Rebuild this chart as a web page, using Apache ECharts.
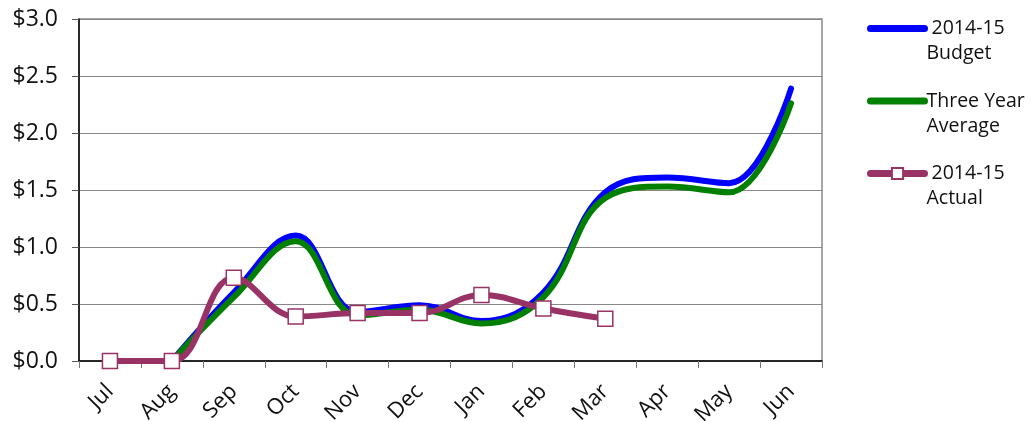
<!DOCTYPE html>
<html><head><meta charset="utf-8">
<script src="https://cdn.jsdelivr.net/npm/echarts@6/dist/echarts.min.js"></script>
<style>html,body{margin:0;padding:0;background:#fff}#c{width:1030px;height:421px}</style>
</head><body><div id="c"></div>
<script>
const categories = ['Jul','Aug','Sep','Oct','Nov','Dec','Jan','Feb','Mar','Apr','May','Jun'];
const budget = [null, 0, 0.6, 1.1, 0.43, 0.49, 0.35, 0.6, 1.48, 1.61, 1.56, 2.39];
const threeYearAvg = [null, 0, 0.56, 1.05, 0.4, 0.45, 0.33, 0.56, 1.43, 1.53, 1.48, 2.26];
const actual = [0, 0, 0.73, 0.39, 0.42, 0.42, 0.58, 0.46, 0.37];
const seriesNames = ['2014-15 Budget', 'Three Year Average', '2014-15 Actual'];
const legendLabels = {'2014-15 Budget': ' 2014-15\nBudget', 'Three Year Average': 'Three Year\nAverage', '2014-15 Actual': ' 2014-15\nActual'};
const yTicks = ['$0.0','$0.5','$1.0','$1.5','$2.0','$2.5','$3.0'];

const font = '"Open Sans", "Noto Sans", sans-serif';
const chart = echarts.init(document.getElementById('c'));
chart.setOption({
  animation: false,
  textStyle: {fontFamily: font},
  grid: {left: 79, right: 208, top: 19, bottom: 60, show: true, borderColor: '#888', borderWidth: 1.5,
         outerBoundsMode: 'none', containLabel: false},
  legend: {
    orient: 'vertical', left: 862, top: -14, itemWidth: 54, itemHeight: 14, itemGap: -2.5,
    lineStyle: {width: 7, cap: 'round'},
    formatter: n => '\n' + legendLabels[n],
    data: [
      {name: seriesNames[0], itemStyle: {opacity: 0}},
      {name: seriesNames[1], itemStyle: {opacity: 0}},
      {name: seriesNames[2]}
    ],
    textStyle: {fontSize: 19.5, color: '#111', lineHeight: 25, padding: [0, 0, 0, -3], fontFamily: font}
  },
  xAxis: {
    type: 'category', data: categories, boundaryGap: true,
    axisLine: {lineStyle: {color: '#000', width: 1.5}},
    axisTick: {show: true, length: 7, lineStyle: {color: '#777'}},
    axisLabel: {rotate: 45, fontSize: 22, color: '#111', margin: 27, fontFamily: font, interval: 0}
  },
  yAxis: {
    type: 'value', min: 0, max: 3, interval: 0.5,
    axisLine: {show: true, lineStyle: {color: '#000', width: 1.5}},
    axisTick: {show: true, length: 7, lineStyle: {color: '#555'}},
    splitLine: {lineStyle: {color: '#888', width: 1.2}},
    axisLabel: {fontSize: 23, color: '#111', margin: 21, fontFamily: font,
      formatter: v => yTicks[Math.round(v / 0.5)]}
  },
  series: [
    {name: seriesNames[0], type: 'line', data: budget, smooth: 0.4, symbol: 'none',
     lineStyle: {color: '#0000ff', width: 6, cap: 'round'}, itemStyle: {color: '#0000ff'}},
    {name: seriesNames[1], type: 'line', data: threeYearAvg, smooth: 0.4, symbol: 'none',
     lineStyle: {color: '#008000', width: 6, cap: 'round'}, itemStyle: {color: '#008000'}},
    {name: seriesNames[2], type: 'line', data: actual, smooth: 0.4, symbol: 'rect', symbolSize: 15,
     lineStyle: {color: '#993366', width: 6, cap: 'round'},
     itemStyle: {color: '#ffffff', borderColor: '#993366', borderWidth: 1.5}}
  ]
});
</script></body></html>
